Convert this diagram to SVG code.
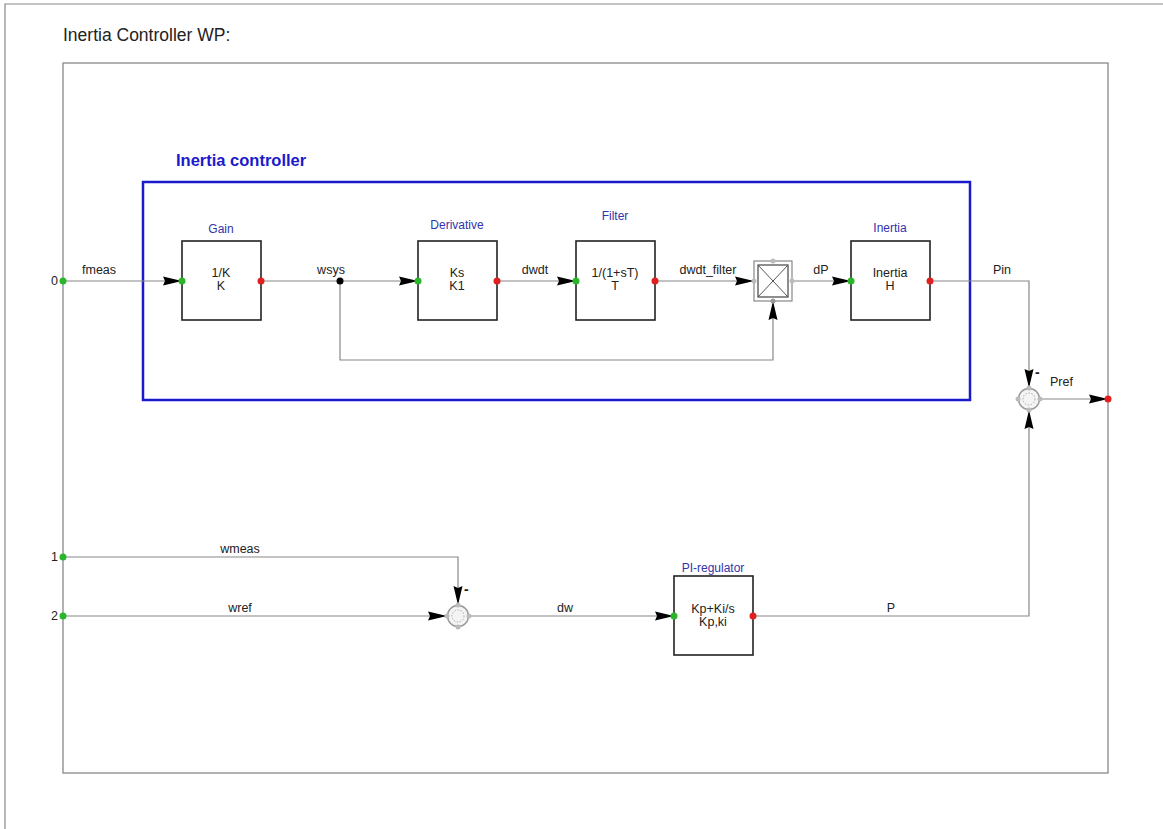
<svg xmlns="http://www.w3.org/2000/svg" width="1163" height="829" viewBox="0 0 1163 829">
<defs>
<marker id="arr" markerWidth="19" markerHeight="10" refX="19" refY="5" orient="auto" markerUnits="userSpaceOnUse">
<path d="M0,0.5 L19,5 L0,9.5 L2,5 Z" fill="#000"/>
</marker>
<g id="sumsym">
<circle r="10.5" fill="#f4f4f4" stroke="#999" stroke-width="1.5"/>
<circle r="6" fill="none" stroke="#aaa" stroke-width="1" stroke-dasharray="1.5 1.5"/>
<circle cx="-11" cy="0" r="2.5" fill="#bbb"/>
<circle cx="11" cy="0" r="2.5" fill="#bbb"/>
<circle cx="0" cy="-11" r="2.5" fill="#bbb"/>
<circle cx="0" cy="11" r="2.5" fill="#bbb"/>
</g>
</defs>
<style>
.w{stroke:#888;stroke-width:1.2;fill:none}
.blk{fill:#fff;stroke:#222;stroke-width:1.6}
.t{font-family:"Liberation Sans",Arial,sans-serif;font-size:12.5px;fill:#222}
.c{text-anchor:middle}
.bl{font-family:"Liberation Sans",Arial,sans-serif;font-size:12px;fill:#3333aa;text-anchor:middle}
.gp{fill:#2bb52b}
.rp{fill:#e02020}
.m{font-family:"Liberation Sans",Arial,sans-serif;font-size:14px;font-weight:bold;fill:#222}
</style>
<rect width="1163" height="829" fill="#fff"/>
<path d="M5,829 V4 H1163" class="w" stroke="#aaa"/>
<text x="63" y="41" font-family="'Liberation Sans',Arial,sans-serif" font-size="17.5" fill="#222">Inertia Controller WP:</text>
<rect x="63" y="63" width="1045" height="710" fill="none" stroke="#888" stroke-width="1.3"/>
<g id="inertia-controller">
<rect x="143" y="182" width="827" height="218" fill="none" stroke="#1a1acc" stroke-width="2.5"/>
<text x="176" y="166" font-family="'Liberation Sans',Arial,sans-serif" font-size="16.5" font-weight="bold" fill="#1a1acc">Inertia controller</text>
</g>
<g id="connectors">
<line x1="63" y1="281" x2="182" y2="281" class="w" marker-end="url(#arr)"/>
<text x="82" y="274" class="t">fmeas</text>
<line x1="261" y1="281" x2="418" y2="281" class="w" marker-end="url(#arr)"/>
<text x="331" y="274" class="t c">wsys</text>
<path d="M340,281 V360 H773 V301" class="w" marker-end="url(#arr)"/>
<circle cx="340" cy="281" r="3.5" fill="#000"/>
<line x1="497" y1="281" x2="576" y2="281" class="w" marker-end="url(#arr)"/>
<text x="535" y="274" class="t c">dwdt</text>
<line x1="655" y1="281" x2="754" y2="281" class="w" marker-end="url(#arr)"/>
<text x="708" y="274" class="t c">dwdt_filter</text>
<line x1="792" y1="281" x2="851" y2="281" class="w" marker-end="url(#arr)"/>
<text x="821" y="274" class="t c">dP</text>
<path d="M930,281 H1029 V388" class="w" marker-end="url(#arr)"/>
<text x="1002" y="274" class="t c">Pin</text>
<text x="1035" y="377" class="m">-</text>
<line x1="1040" y1="399" x2="1108" y2="399" class="w" marker-end="url(#arr)"/>
<text x="1050" y="386" class="t">Pref</text>
<path d="M754,616 H1029 V410" class="w" marker-end="url(#arr)"/>
<text x="891" y="612" class="t c">P</text>
<path d="M63,557 H458 V605" class="w" marker-end="url(#arr)"/>
<text x="240" y="553" class="t c">wmeas</text>
<text x="464" y="594" class="m">-</text>
<line x1="63" y1="616" x2="447" y2="616" class="w" marker-end="url(#arr)"/>
<text x="240" y="612" class="t c">wref</text>
<line x1="469" y1="616" x2="674" y2="616" class="w" marker-end="url(#arr)"/>
<text x="565" y="612" class="t c">dw</text>
</g>
<g id="port0"><circle cx="63" cy="281" r="3.5" class="gp"/><text x="51" y="285" class="t" font-size="10">0</text></g>
<g id="port1"><circle cx="63" cy="557" r="3.5" class="gp"/><text x="51" y="561" class="t" font-size="10">1</text></g>
<g id="port2"><circle cx="63" cy="616" r="3.5" class="gp"/><text x="51" y="620" class="t" font-size="10">2</text></g>
<g id="gain">
<rect x="182" y="241" width="79" height="79" class="blk"/>
<text x="221" y="233" class="bl">Gain</text>
<text x="221" y="277" class="t c">1/K</text>
<text x="221" y="290" class="t c">K</text>
<circle cx="182" cy="281" r="3.5" class="gp"/><circle cx="261" cy="281" r="3.5" class="rp"/>
</g>
<g id="derivative">
<rect x="418" y="241" width="79" height="79" class="blk"/>
<text x="457" y="229" class="bl">Derivative</text>
<text x="457" y="277" class="t c">Ks</text>
<text x="457" y="290" class="t c">K1</text>
<circle cx="418" cy="281" r="3.5" class="gp"/><circle cx="497" cy="281" r="3.5" class="rp"/>
</g>
<g id="filter">
<rect x="576" y="241" width="79" height="79" class="blk"/>
<text x="615" y="220" class="bl">Filter</text>
<text x="615" y="277" class="t c">1/(1+sT)</text>
<text x="615" y="290" class="t c">T</text>
<circle cx="576" cy="281" r="3.5" class="gp"/><circle cx="655" cy="281" r="3.5" class="rp"/>
</g>
<g id="multiplier">
<rect x="754" y="261" width="38" height="40" fill="#fff" stroke="#888" stroke-width="1.2"/>
<rect x="758" y="265" width="30" height="32" fill="none" stroke="#444" stroke-width="1.2"/>
<path d="M758,265 L788,297 M788,265 L758,297" stroke="#555" stroke-width="1"/>
<circle cx="773" cy="261" r="2.5" fill="#bbb"/>
<circle cx="792" cy="281" r="2.5" fill="#bbb"/>
<circle cx="754" cy="281" r="2.5" fill="#bbb"/>
<circle cx="773" cy="301" r="2.5" fill="#999"/>
</g>
<g id="inertia">
<rect x="851" y="241" width="79" height="79" class="blk"/>
<text x="890" y="232" class="bl">Inertia</text>
<text x="890" y="277" class="t c">Inertia</text>
<text x="890" y="290" class="t c">H</text>
<circle cx="851" cy="281" r="3.5" class="gp"/><circle cx="930" cy="281" r="3.5" class="rp"/>
</g>
<g id="sum-pref"><use href="#sumsym" x="1029" y="399"/></g>
<g id="pref-out"><circle cx="1108" cy="399" r="3.5" class="rp"/></g>
<g id="sum-dw"><use href="#sumsym" x="458" y="616"/></g>
<g id="pi-regulator">
<rect x="674" y="576" width="79" height="79" class="blk"/>
<text x="713" y="572" class="bl">PI-regulator</text>
<text x="713" y="613" class="t c">Kp+Ki/s</text>
<text x="713" y="626" class="t c">Kp,ki</text>
<circle cx="674" cy="616" r="3.5" class="gp"/><circle cx="753" cy="616" r="3.5" class="rp"/>
</g>
</svg>
